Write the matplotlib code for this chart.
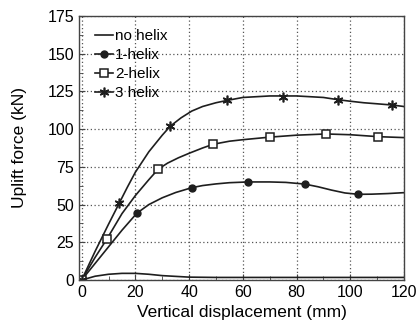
import numpy as np
import matplotlib
matplotlib.use("Agg")
from matplotlib import pyplot as plt
from matplotlib.ticker import MultipleLocator

plt.rcParams['font.family'] = ['Liberation Sans', 'DejaVu Sans']

# Curves (mm, kN)
noX = [0, 5, 10, 15, 20, 25, 30, 40, 50, 60, 80, 100, 120]
noY = [0, 2.5, 3.8, 4.4, 4.4, 3.8, 2.9, 1.9, 1.7, 1.7, 1.7, 1.7, 1.7]

h1X = [0, 5, 10, 15, 20.5, 25, 30, 35, 41, 45, 50, 55, 62, 70, 76, 83, 88, 93, 98, 103, 108, 114, 120]
h1Y = [0, 11, 22, 33, 44.2, 50, 54.5, 58, 61.2, 62.6, 63.7, 64.5, 65.0, 65.0, 64.7, 63.6, 61.8, 59.6, 57.7, 56.8, 56.9, 57.3, 57.9]

h2X = [0, 5, 9.5, 15, 20, 25, 28.5, 32, 36, 40, 45, 49, 55, 60, 70, 80, 91, 100, 110.5, 120]
h2Y = [0, 15, 27.5, 44, 56, 66.5, 73.5, 77.5, 81, 84, 87.5, 90, 92, 93, 94.7, 96, 96.8, 96.3, 95, 94.4]

h3X = [0, 5, 10, 14, 17, 20, 25, 30, 33, 37, 41, 45, 50, 54, 60, 70, 80, 90, 95.5, 100, 105, 110, 115.5, 120]
h3Y = [0, 19, 37, 51, 61.5, 71.5, 85, 96, 102, 107.5, 112, 115, 117.5, 119, 121, 122, 122, 121, 119.5, 118.5, 117.5, 116.8, 116, 115]

# Marker positions
m1X = [0, 20.5, 41, 62, 83, 103]
m1Y = [0, 44.2, 61.2, 65.0, 63.6, 56.8]
m2X = [0, 9.5, 28.5, 49, 70, 91, 110.5]
m2Y = [0, 27.5, 73.5, 90, 94.7, 96.8, 95]
m3X = [0, 14, 33, 54, 75, 95.5, 115.5]
m3Y = [0, 51, 102, 119, 121.5, 119.5, 116]

xTicks = [0, 20, 40, 60, 80, 100, 120]
yTicks = [0, 25, 50, 75, 100, 125, 150, 175]

lc = '#1e1e1e'
fig = plt.figure(figsize=(4.17, 3.25), dpi=100)
ax = fig.add_axes([79/417, 1-280/325, 325/417, 264/325])

ax.grid(True, which='major', linestyle=(0, (1, 2)), color='#555555', linewidth=0.9)
ax.set_axisbelow(True)

ax.plot(noX, noY, color=lc, lw=1.2)
ax.plot(h1X, h1Y, color=lc, lw=1.2)
ax.plot(h2X, h2Y, color=lc, lw=1.2)
ax.plot(h3X, h3Y, color=lc, lw=1.2)
ax.plot(m1X, m1Y, 'o', color=lc, ms=5)
ax.plot(m2X, m2Y, 's', color=lc, mfc='white', ms=5.5, mew=1.1)
ax.plot(m3X, m3Y, marker=(6, 2, 0), ls='none', color=lc, ms=7, mew=1.2)

# legend proxies
h0, = ax.plot([], [], color=lc, lw=1.2)
hA, = ax.plot([], [], '-o', color=lc, lw=1.2, ms=5)
hB, = ax.plot([], [], '-s', color=lc, mfc='white', lw=1.2, ms=5.5, mew=1.1)
hC, = ax.plot([], [], '-', marker=(6, 2, 0), color=lc, lw=1.2, ms=7, mew=1.2)
ax.legend([h0, hA, hB, hC], ["no helix", "1-helix", "2-helix", "3 helix"],
          loc='upper left', frameon=False, fontsize=11, handlelength=1.2,
          handletextpad=0.15, labelspacing=0.32, borderaxespad=0.3,
          bbox_to_anchor=(0.015, 0.99))

ax.set_xlim(-1, 120)
ax.set_ylim(0, 175)
ax.set_xticks(xTicks)
ax.set_yticks(yTicks)
ax.xaxis.set_minor_locator(MultipleLocator(10))
ax.yaxis.set_minor_locator(MultipleLocator(12.5))
ax.tick_params(which='both', direction='in', labelsize=11.5, color='#444444')
ax.tick_params(which='major', length=4)
ax.tick_params(which='minor', length=3)
for s in ax.spines.values():
    s.set_color('#444444')
    s.set_linewidth(1.0)

ax.set_xlabel("Vertical displacement (mm)", fontsize=12.5)
ax.set_ylabel("Uplift force (kN)", fontsize=12.5)
ax.xaxis.set_label_coords(0.5, -0.095)
ax.yaxis.set_label_coords(-0.16, 0.5)

fig.savefig("out.png", dpi=100)
